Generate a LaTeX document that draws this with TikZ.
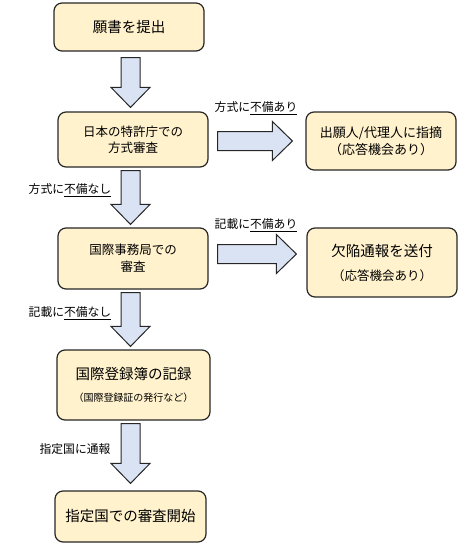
\documentclass[tikz,border=0pt]{standalone}
\usepackage{fontspec}
\newfontfamily\jp{Noto Sans CJK JP}
\usetikzlibrary{calc, positioning}
\definecolor{boxcream}{RGB}{255,242,204}
\definecolor{arrowblue}{RGB}{218,227,243}

\begin{document}
\begin{tikzpicture}[x=1pt, y=-1pt, font=\jp\fontsize{12.5}{14}\selectfont,
    box/.style={draw=black!85, line width=1.2pt, rounded corners=8pt, fill=boxcream, align=center, inner sep=0pt},
    lbl/.style={font=\jp\fontsize{11.8}{13}\selectfont, inner sep=0pt},
    fat/.style={draw=black!85, line width=1pt, fill=arrowblue, line join=miter,
        to path={($(\tikztostart)!9.5pt!90:(\tikztotarget)$)
            -- ($(\tikztotarget)!20pt!(\tikztostart)!9.5pt!-90:(\tikztostart)$)
            -- ($(\tikztotarget)!20pt!(\tikztostart)!19.5pt!-90:(\tikztostart)$)
            -- (\tikztotarget)
            -- ($(\tikztotarget)!20pt!(\tikztostart)!19.5pt!90:(\tikztostart)$)
            -- ($(\tikztotarget)!20pt!(\tikztostart)!9.5pt!90:(\tikztostart)$)
            -- ($(\tikztostart)!9.5pt!-90:(\tikztotarget)$) -- cycle}}]

\useasboundingbox (0,0) rectangle (474,552);

% boxes in the main column
\node[box, minimum width=150pt, minimum height=48pt, font=\jp\fontsize{14.5}{16}\selectfont] (submit) at (129,27) {願書を提出};
\node[box, minimum width=150pt, minimum height=55pt] (jpo) at (133,139.5) {日本の特許庁での\\[2pt]方式審査};
\node[box, minimum width=150pt, minimum height=61pt] (ib) at (133,258.5) {国際事務局での\\[3pt]審査};
\node[box, minimum width=153pt, minimum height=70pt] (register) at (133.5,385)
    {{\fontsize{14.5}{16}\selectfont 国際登録簿の記録}\\[8pt]{\fontsize{10}{12}\selectfont （国際登録証の発行など）}};
\node[box, minimum width=151pt, minimum height=51pt, font=\jp\fontsize{14.5}{16}\selectfont] (exam) at (130.5,516.5) {指定国での審査開始};

% boxes on the right
\node[box, minimum width=150pt, minimum height=58pt, font=\jp\fontsize{13}{14}\selectfont] (notify) at (381,141) {出願人/代理人に指摘\\[3pt]（応答機会あり）};
\node[box, minimum width=150pt, minimum height=69pt] (defect) at (382,262.5)
    {{\fontsize{14.5}{16}\selectfont 欠陥通報を送付}\\[10pt]（応答機会あり）};

% block arrows
\draw[fat] ([xshift=1.5pt, yshift=-6pt]submit.south) to ([xshift=1.5pt, yshift=4pt]submit.south |- jpo.north);
\draw[fat] ([xshift=-2.5pt, yshift=-3pt]jpo.south) to ([xshift=-2.5pt, yshift=3pt]jpo.south |- ib.north);
\draw[fat] ([xshift=-2.5pt, yshift=-3pt]ib.south) to ([xshift=-2.5pt, yshift=3pt]ib.south |- register.north);
\draw[fat] ([xshift=-3pt, yshift=-3pt]register.south) to ([xshift=-3pt, yshift=7pt]register.south |- exam.north);

\draw[fat] ([xshift=9pt, yshift=-1.5pt]jpo.east) to ([xshift=-13pt, yshift=-1.5pt]jpo.east -| notify.west);
\draw[fat] ([xshift=9pt, yshift=4.5pt]ib.east) to ([xshift=-10pt, yshift=4.5pt]ib.east -| defect.west);

% arrow labels
\node[lbl] (l-jpo-ng) at (256,108) {方式に\underline{不備あり}};
\node[lbl] (l-jpo-ok) at (70,190) {方式に\underline{不備なし}};
\node[lbl] (l-ib-ng) at (256,225) {記載に\underline{不備あり}};
\node[lbl] (l-ib-ok) at (70,313) {記載に\underline{不備なし}};
\node[lbl] (l-notice) at (75,449) {指定国に通報};

\end{tikzpicture}
\end{document}
